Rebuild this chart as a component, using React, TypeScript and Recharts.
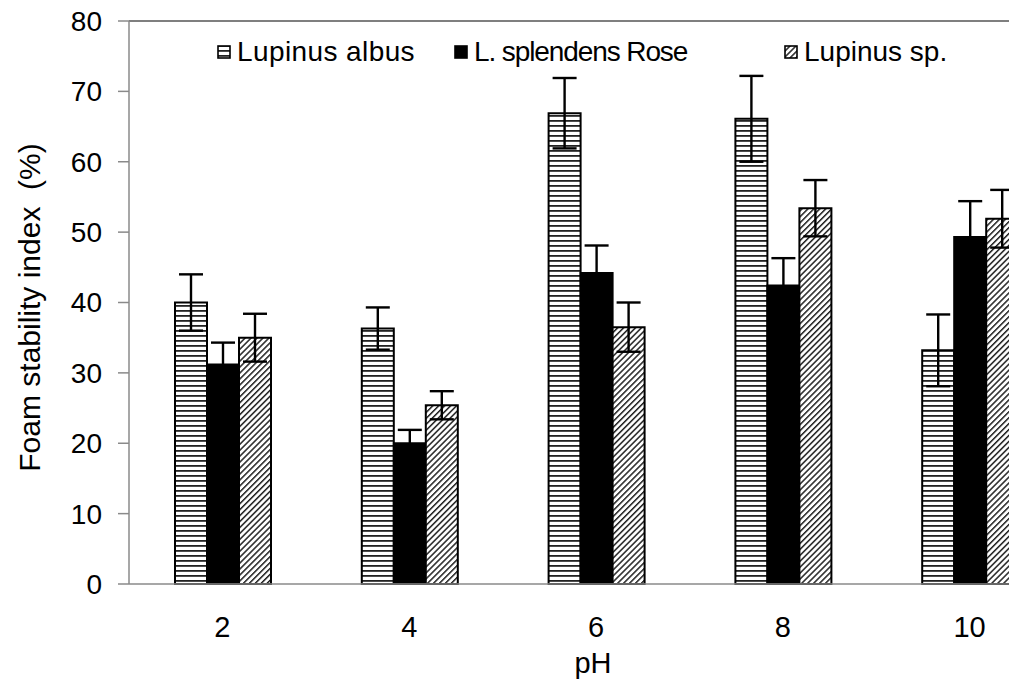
import React from "react";
import { Bar, BarChart, ErrorBar, Label, Legend, ReferenceLine, XAxis, YAxis } from "recharts";

const phLevels = ["2", "4", "6", "8", "10"];
const albus = [40.0, 36.3, 66.9, 66.1, 33.2];
const albusErr = [4.0, 3.0, 5.0, 6.1, 5.1];
const splendens = [31.2, 20.0, 44.2, 42.4, 49.3];
const splendensErr = [3.1, 1.9, 3.9, 3.9, 5.1];
const lupinusSp = [35.0, 25.4, 36.5, 53.4, 51.9];
const lupinusSpErr = [3.4, 2.0, 3.5, 4.0, 4.1];
const yTicks = [0, 10, 20, 30, 40, 50, 60, 70, 80];

const seriesNames = ["Lupinus albus", "L. splendens Rose", "Lupinus sp."];

const data = phLevels.map((ph, i) => ({
  ph,
  albus: albus[i],
  albusErr: albusErr[i],
  splendens: splendens[i],
  splendensErr: splendensErr[i],
  lupinusSp: lupinusSp[i],
  lupinusSpErr: lupinusSpErr[i],
}));

const FONT = "'Liberation Sans', Arial, sans-serif";
const AXIS_GRAY = "#8a8a8a";

function PatternDefs({ prefix }: { prefix: string }) {
  return (
    <defs>
      <pattern id={`${prefix}-hlines`} width="8" height="5" patternUnits="userSpaceOnUse">
        <rect width="8" height="5" fill="#fff" />
        <rect y="0" width="8" height="1.8" fill="#222" />
      </pattern>
      <pattern
        id={`${prefix}-diag`}
        width="4.2"
        height="4.2"
        patternUnits="userSpaceOnUse"
        patternTransform="rotate(45)"
      >
        <rect width="4.2" height="4.2" fill="#fff" />
        <rect x="0" width="1.5" height="4.2" fill="#222" />
      </pattern>
    </defs>
  );
}

function LegendIcon({ kind }: { kind: number }) {
  const fill = kind === 0 ? "url(#lg-hlines)" : kind === 1 ? "#000" : "url(#lg-diag)";
  return (
    <svg width="14" height="14" style={{ display: "block" }}>
      <PatternDefs prefix="lg" />
      <rect x="1" y="1" width="12" height="12" fill={fill} stroke="#000" strokeWidth="1.6" />
    </svg>
  );
}

const legendLeft = [217, 454, 784];
// the source squeezes some labels a little
const legendSpacing = [0.4, -1.1, 0];

function renderLegend() {
  return (
    <div style={{ position: "relative", width: 1009, height: 36, fontFamily: FONT }}>
      {seriesNames.map((name, i) => (
        <div
          key={name}
          style={{
            position: "absolute",
            left: legendLeft[i],
            top: 0,
            height: 36,
            display: "flex",
            alignItems: "center",
            gap: 6,
            fontSize: 28,
            letterSpacing: legendSpacing[i],
            color: "#000",
            whiteSpace: "nowrap",
          }}
        >
          <LegendIcon kind={i} />
          <span>{name}</span>
        </div>
      ))}
    </div>
  );
}

function YTitle(props: any) {
  const vb = props.viewBox;
  const cx = 29;
  const cy = vb.y + vb.height / 2 + 5;
  return (
    <text
      x={cx}
      y={cy}
      transform={`rotate(-90, ${cx}, ${cy})`}
      textAnchor="middle"
      dominantBaseline="central"
      fontFamily={FONT}
      fontSize={30}
      fill="#000"
      style={{ whiteSpace: "pre" }}
    >
      {"Foam stability index  (%)"}
    </text>
  );
}

function XTitle() {
  return (
    <text x={593} y={663} textAnchor="middle" dominantBaseline="central" fontFamily={FONT} fontSize={29} fill="#000">
      pH
    </text>
  );
}

export default function App() {
  return (
    <div
      style={{
        position: "absolute",
        left: 0,
        top: 0,
        width: 1009,
        height: 680,
        overflow: "hidden",
        background: "#fff",
      }}
    >
      <BarChart
        width={1070}
        height={680}
        data={data}
        margin={{ top: 21, right: 7, left: 0, bottom: 0 }}
        barCategoryGap={46}
        barGap={0}
      >
        <PatternDefs prefix="bar" />
        <XAxis
          dataKey="ph"
          height={96}
          tickLine={false}
          tickSize={0}
          tickMargin={32}
          axisLine={{ stroke: AXIS_GRAY, strokeWidth: 1.5 }}
          tick={{ fontFamily: FONT, fontSize: 29, fill: "#000" }}
          interval={0}
        >
          <Label content={XTitle} />
        </XAxis>
        <YAxis
          width={129}
          domain={[0, 80]}
          ticks={yTicks}
          interval={0}
          tickSize={11}
          tickMargin={16}
          axisLine={{ stroke: AXIS_GRAY, strokeWidth: 1.5 }}
          tickLine={{ stroke: AXIS_GRAY, strokeWidth: 1.5 }}
          tick={{ fontFamily: FONT, fontSize: 28, fill: "#000" }}
        >
          <Label content={YTitle} />
        </YAxis>
        <ReferenceLine y={80} stroke="#555" strokeWidth={1.5} />
        <Legend
          content={renderLegend}
          layout="horizontal"
          verticalAlign="middle"
          align="center"
          wrapperStyle={{ top: 34, left: 0, width: 1009 }}
        />
        <Bar
          dataKey="albus"
          name={seriesNames[0]}
          fill="url(#bar-hlines)"
          stroke="#000"
          strokeWidth={2}
          isAnimationActive={false}
        >
          <ErrorBar dataKey="albusErr" width={12} stroke="#000" strokeWidth={2.4} direction="y" />
        </Bar>
        <Bar
          dataKey="splendens"
          name={seriesNames[1]}
          fill="#000"
          stroke="#000"
          strokeWidth={2}
          isAnimationActive={false}
        >
          <ErrorBar dataKey="splendensErr" width={12} stroke="#000" strokeWidth={2.4} direction="y" />
        </Bar>
        <Bar
          dataKey="lupinusSp"
          name={seriesNames[2]}
          fill="url(#bar-diag)"
          stroke="#000"
          strokeWidth={2}
          isAnimationActive={false}
        >
          <ErrorBar dataKey="lupinusSpErr" width={12} stroke="#000" strokeWidth={2.4} direction="y" />
        </Bar>
      </BarChart>
    </div>
  );
}
